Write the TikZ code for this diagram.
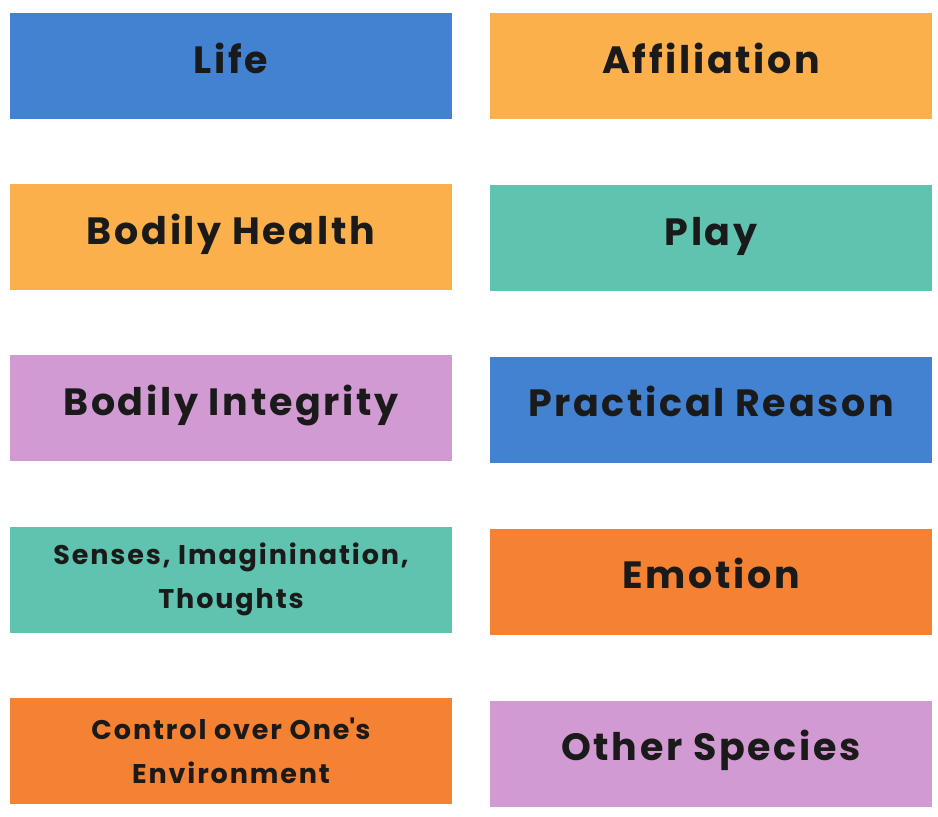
\documentclass[tikz,border=0pt]{standalone}
\usepackage{fontspec}
\setmainfont{Poppins}[LetterSpace=7]
\usetikzlibrary{positioning}
\definecolor{sky}{HTML}{4381D1}
\definecolor{apricot}{HTML}{FBB04C}
\definecolor{mint}{HTML}{5FC3AF}
\definecolor{lilac}{HTML}{D19AD3}
\definecolor{tangerine}{HTML}{F58232}
\definecolor{ink}{HTML}{1A1A1A}
\tikzset{
  cap/.style={fill=#1,draw=none,minimum width=442pt,minimum height=106pt,
    inner sep=0pt,align=center,text=ink,text height=30pt,text depth=16pt,
    font=\fontsize{38}{40}\selectfont\bfseries},
  cap/.default=sky,
  small cap/.style={cap=#1,text height=,text depth=,font=\fontsize{27}{44}\selectfont\bfseries},
}
\begin{document}
\begin{tikzpicture}[x=1pt,y=-1pt]
  \useasboundingbox (0,0) rectangle (938,817);
  % left column
  \foreach \n/\y/\c/\t in {l1/66/sky/Life,l2/237/apricot/Bodily Health,l3/408/lilac/Bodily Integrity}
    \node[cap=\c] (\n) at (231,\y) {\t};
  \node[small cap=mint] (l4) at (231,579.5) {Senses, Imaginination,\\Thoughts};
  \node[small cap=tangerine] (l5) at (231,750.5) {Control over One\textquotesingle s\\Environment};
  % right column
  \foreach \n/\y/\c/\t in {r1/66/apricot/Affiliation,r2/238/mint/Play,r3/409.5/sky/Practical Reason,
    r4/581.5/tangerine/Emotion,r5/753.5/lilac/Other Species}
    \node[cap=\c] (\n) at (711,\y) {\t};
\end{tikzpicture}
\end{document}
